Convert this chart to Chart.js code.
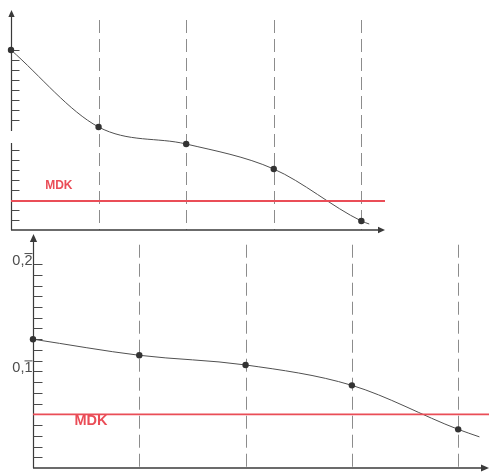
<!DOCTYPE html>
<html>
<head>
<meta charset="utf-8">
<script src="https://cdn.jsdelivr.net/npm/chart.js@4"></script>
<style>
  html, body { margin: 0; padding: 0; background: #fff; }
  #wrap { position: relative; width: 493px; height: 472px; overflow: hidden; }
  canvas { position: absolute; left: 0; }
  #upper { top: 0; }
  #lower { top: 230px; }
</style>
</head>
<body>
<div id="wrap">
  <canvas id="upper" width="390" height="236"></canvas>
  <canvas id="lower" width="493" height="242"></canvas>
</div>
<script>
// Sampling stations along the horizontal axis
const stations = [0, 1, 2, 3, 4];

// Upper panel (unlabelled scale, one unit per tick)
const upperValues = [18.0, 10.3, 8.6, 6.1, 0.9];
const upperTail = { x: 4.09, y: 0.6 };   // where the fitted curve stops
const upperMdk = 2.9;
const upperTicks = [1, 2, 3, 4, 5, 6, 7, 8, 11, 12, 13, 14, 15, 16, 17, 18];

// Lower panel
const lowerValues = [0.130, 0.115, 0.106, 0.087, 0.046];
const lowerTail = { x: 4.2, y: 0.039 };
const lowerMdk = 0.060;
const lowerTicks = [0.02, 0.03, 0.04, 0.05, 0.06, 0.07, 0.08, 0.09, 0.10,
                    0.11, 0.12, 0.13, 0.14, 0.15, 0.16, 0.17, 0.18, 0.19, 0.20];
const lowerTickLabels = [{ value: 0.2, text: '0,2' }, { value: 0.1, text: '0,1' }];

const mdkLabel = 'MDK';

const RED = '#ea4d57';
const INK = '#3a3a3a';

function arrowHead(ctx, x, y, dir, size) {
  ctx.beginPath();
  if (dir === 'up') {
    ctx.moveTo(x, y);
    ctx.lineTo(x - size * 0.45, y + size);
    ctx.lineTo(x + size * 0.45, y + size);
  } else {
    ctx.moveTo(x, y);
    ctx.lineTo(x - size, y - size * 0.45);
    ctx.lineTo(x - size, y + size * 0.45);
  }
  ctx.closePath();
  ctx.fill();
}

// Draws the hand-style axes, inner tick marks, dashed station lines and labels
const sketchAxes = {
  id: 'sketchAxes',
  beforeDatasetsDraw(chart, args, o) {
    const ctx = chart.ctx;
    const xs = chart.scales.x, ys = chart.scales.y;
    const x0 = xs.getPixelForValue(xs.min);
    const x1 = xs.getPixelForValue(xs.max);
    const y0 = ys.getPixelForValue(ys.min);
    const yTop = ys.getPixelForValue(ys.max);
    ctx.save();

    // dashed verticals at the stations
    ctx.strokeStyle = '#8c8c8c';
    ctx.lineWidth = 1;
    ctx.setLineDash([13, 6]);
    const dashTop = ys.getPixelForValue(o.dashTop);
    stations.slice(1).forEach(s => {
      const px = Math.round(xs.getPixelForValue(s)) + 0.5;
      ctx.beginPath();
      ctx.moveTo(px, dashTop);
      ctx.lineTo(px, y0);
      ctx.stroke();
    });
    ctx.setLineDash([]);

    // vertical axis (optionally broken)
    ctx.strokeStyle = INK;
    ctx.fillStyle = INK;
    ctx.lineWidth = 1.2;
    const ax = x0 + 0.5;
    const segments = o.breakAt
      ? [[ys.max - 0.6, o.breakAt[1]], [o.breakAt[0], ys.min]]
      : [[ys.max - 0.6 * (ys.max - ys.min) / 22, ys.min]];
    segments.forEach(([a, b]) => {
      ctx.beginPath();
      ctx.moveTo(ax, ys.getPixelForValue(a));
      ctx.lineTo(ax, ys.getPixelForValue(b));
      ctx.stroke();
    });
    arrowHead(ctx, ax, yTop, 'up', o.arrow);

    // horizontal axis
    ctx.lineWidth = 1.4;
    ctx.beginPath();
    ctx.moveTo(x0, y0);
    ctx.lineTo(x1 - 2, y0);
    ctx.stroke();
    arrowHead(ctx, x1, y0, 'right', o.arrow);

    // tick marks inside the plot
    ctx.lineWidth = 1;
    ctx.strokeStyle = '#4a4a4a';
    o.ticks.forEach(t => {
      const py = Math.round(ys.getPixelForValue(t)) + 0.5;
      ctx.beginPath();
      ctx.moveTo(ax, py);
      ctx.lineTo(ax + o.tickLen, py);
      ctx.stroke();
    });

    // numeric labels left of the axis
    ctx.fillStyle = '#4d4d4d';
    ctx.font = '14.5px "Liberation Sans", Arial, sans-serif';
    ctx.textAlign = 'right';
    ctx.textBaseline = 'middle';
    (o.labels || []).forEach(l => {
      const py = ys.getPixelForValue(l.value) - 3;
      ctx.fillText(l.text, ax - 1, py);
      ctx.strokeStyle = '#4d4d4d';
      ctx.beginPath();
      ctx.moveTo(ax - 9, py - 7.5);
      ctx.lineTo(ax - 1, py - 7.5);
      ctx.stroke();
    });

    // MDK caption above the limit line
    ctx.fillStyle = RED;
    ctx.font = o.mdkFont;
    ctx.textAlign = 'left';
    ctx.textBaseline = 'middle';
    ctx.fillText(mdkLabel, xs.getPixelForValue(o.mdkAt[0]), ys.getPixelForValue(o.mdkAt[1]));

    ctx.restore();
  }
};

function buildChart(id, values, tail, mdk, xMax, yMin, yMax, padding, extra) {
  const curve = stations.map((s, i) => ({ x: s, y: values[i] })).concat([tail]);
  return new Chart(document.getElementById(id), {
    type: 'line',
    data: {
      datasets: [
        {
          data: [{ x: 0, y: mdk }, { x: xMax, y: mdk }],
          borderColor: RED,
          borderWidth: 1.8,
          pointRadius: 0,
          clip: false
        },
        {
          data: curve,
          borderColor: '#505050',
          borderWidth: 1,
          cubicInterpolationMode: 'monotone',
          pointRadius: curve.map((p, i) => (i < values.length ? 3.2 : 0)),
          pointBackgroundColor: '#333',
          pointBorderWidth: 0,
          clip: false
        }
      ]
    },
    options: {
      responsive: false,
      animation: false,
      layout: { padding },
      plugins: { legend: { display: false }, tooltip: { enabled: false }, sketchAxes: extra },
      scales: {
        x: { type: 'linear', min: 0, max: xMax, display: false },
        y: { type: 'linear', min: yMin, max: yMax, display: false }
      }
    },
    plugins: [sketchAxes]
  });
}

buildChart('upper', upperValues, upperTail, upperMdk, 4.27, 0, 22,
  { left: 11, right: 5, top: 10, bottom: 6 },
  { ticks: upperTicks, tickLen: 8, dashTop: 21, breakAt: [8.7, 9.9], arrow: 7,
    mdkAt: [0.39, 4.4], mdkFont: 'bold 12px "Liberation Sans", Arial, sans-serif' });

buildChart('lower', lowerValues, lowerTail, lowerMdk, 4.29, 0.01, 0.228,
  { left: 33, right: 0, top: 4, bottom: 3 },
  { ticks: lowerTicks, tickLen: 9, dashTop: 0.218, arrow: 8, labels: lowerTickLabels,
    mdkAt: [0.39, 0.0535], mdkFont: 'bold 14.5px "Liberation Sans", Arial, sans-serif' });
</script>
</body>
</html>
